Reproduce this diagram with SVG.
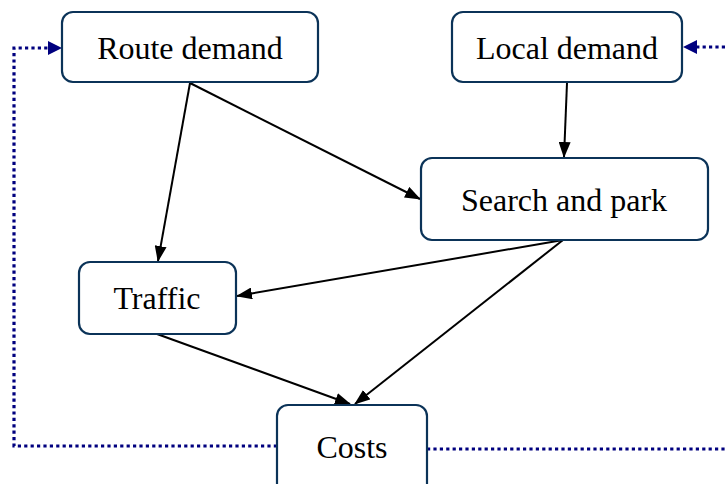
<svg xmlns="http://www.w3.org/2000/svg" width="725" height="484" viewBox="0 0 725 484">
<style>
.box{fill:#fff;stroke:#0b3358;stroke-width:2.2}
.lbl{font-family:"Liberation Serif","Times New Roman",serif;font-size:32px;fill:#000;text-anchor:middle;dominant-baseline:central}
.edge{stroke:#000;stroke-width:2;fill:none;marker-end:url(#ah)}
.fb{stroke:#00007f;stroke-width:3.2;fill:none;stroke-dasharray:3.2 3.2}
</style>
<defs>
<marker id="ah" markerWidth="16" markerHeight="12" refX="15" refY="6" orient="auto" markerUnits="userSpaceOnUse" viewBox="0 0 16 12">
<path d="M0,0 L16,6 L0,12 Z" fill="#000"/>
</marker>
</defs>
<g id="connectors">
<path class="fb" d="M277,446 H14 V48 H50" />
<path d="M48,41 L62,48 L48,55 Z" fill="#00007f"/>
<path class="fb" d="M427,449 H725" />
<path class="fb" d="M725,47 H697" />
<path d="M697,40 L683,47 L697,54 Z" fill="#00007f"/>
<line class="edge" x1="190" y1="83" x2="158" y2="261"/>
<line class="edge" x1="190" y1="83" x2="420" y2="199"/>
<line class="edge" x1="567" y1="83" x2="564" y2="157"/>
<line class="edge" x1="563" y1="240" x2="237" y2="296"/>
<line class="edge" x1="563" y1="240" x2="355" y2="404"/>
<line class="edge" x1="157" y1="334" x2="350" y2="404"/>
</g>
<g id="route-demand">
<rect class="box" x="62" y="12" width="256" height="70" rx="11"/>
<text class="lbl" x="190" y="48">Route demand</text>
</g>
<g id="local-demand">
<rect class="box" x="452" y="12" width="230" height="70" rx="11"/>
<text class="lbl" x="567" y="48">Local demand</text>
</g>
<g id="search-and-park">
<rect class="box" x="421" y="158" width="287" height="82" rx="11"/>
<text class="lbl" x="564" y="200">Search and park</text>
</g>
<g id="traffic">
<rect class="box" x="79" y="262" width="157" height="72" rx="11"/>
<text class="lbl" x="157" y="298">Traffic</text>
</g>
<g id="costs">
<rect class="box" x="277" y="405" width="150" height="100" rx="11"/>
<text class="lbl" x="352" y="447">Costs</text>
</g>
</svg>
